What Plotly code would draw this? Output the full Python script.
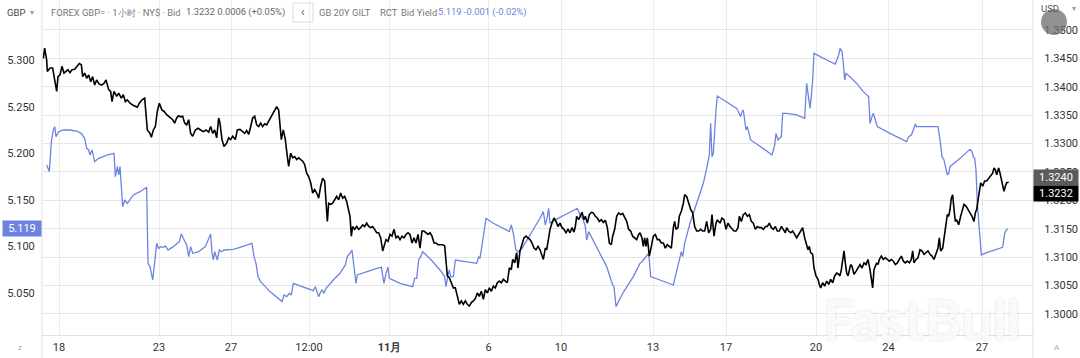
import plotly.graph_objects as go

# ---------------- data ----------------
# x axis: bar index (trading-time index), tick labels placed at bar positions
tick_bars = [12.75, 87.75, 141.75, 200.25, 260.6, 334.9, 389.25, 458.25, 513, 580.5, 634.9, 705]
tick_text = ["18", "23", "27", "12:00", "<b>11月</b>", "6", "10", "13", "17", "20", "24", "27"]

# GBP/USD (FOREX GBP=, 1h, Bid) -> right axis
gbp_bar = [
    1.0, 2.0, 3.5, 4.0, 6.0, 8.0, 9.5, 11.0, 12.0, 13.5, 15.0, 16.5, 18.0, 19.5, 21.0, 22.5, 24.5, 26.0, 28.0, 29.5,
    30.5, 32.0, 33.5, 35.0, 36.5, 38.0, 39.5, 41.0, 42.5, 44.5, 46.5, 48.0, 50.0, 51.5, 52.5, 54.0, 56.0, 57.5, 59.5, 61.0,
    62.5, 64.0, 66.0, 68.0, 70.0, 71.5, 73.0, 75.0, 77.0, 78.0, 79.0, 81.0, 82.0, 83.5, 85.0, 86.5, 88.0, 90.0, 91.5, 93.5,
    96.0, 98.0, 99.5, 101.0, 102.5, 104.0, 105.5, 107.0, 108.5, 110.0, 111.5, 113.0, 115.0, 117.0, 119.0, 121.0, 123.0, 125.0, 126.5, 128.0,
    129.5, 131.0, 132.5, 133.5, 135.0, 136.5, 138.5, 140.0, 141.5, 143.0, 145.0, 146.5, 148.5,
    150.5, 152.0, 153.5, 155.0, 156.5, 158.0, 159.5, 161.0, 162.5, 164.0, 165.5, 167.0, 168.5, 170.0, 171.5, 173.0, 174.5, 176.0, 177.5, 178.5,
    179.5, 181.0, 182.5, 184.0, 185.0, 186.5, 188.0, 189.5, 191.0, 192.5, 194.0, 195.5, 197.0, 198.5, 200.0, 201.5, 203.0, 204.5, 206.0, 207.5,
    209.0, 210.5, 212.0, 213.0, 214.0, 215.0, 216.5, 218.0, 219.5, 221.0, 222.5, 224.0, 225.5, 227.0, 228.5, 230.0, 231.0, 232.0, 233.0, 234.5,
    236.0, 237.5, 239.0, 240.5, 242.0, 243.5, 245.0, 246.5, 248.0, 249.5, 251.0, 252.5, 254.0, 255.5, 256.5, 258.0, 259.5, 261.0, 262.5, 264.0,
    265.5, 267.0, 268.5, 270.0, 271.5, 273.0, 274.5, 276.0, 277.5, 279.0, 280.5, 282.0, 283.5, 285.0, 286.5, 288.0, 289.5, 291.0, 292.5, 294.0,
    295.5, 297.0, 298.5,
    300.5, 302.0, 303.0, 304.0, 305.5, 307.0, 308.5, 310.0, 311.5, 313.0, 314.5, 316.0, 317.5, 319.0, 320.5, 322.0, 323.5, 325.0, 326.5, 328.0,
    329.5, 331.0, 332.5, 334.0, 335.5, 337.0, 338.5, 340.0, 341.5, 343.0, 344.5, 346.0, 347.5, 349.0, 350.5, 352.0, 353.0, 354.5, 356.0, 357.0,
    358.5, 360.0, 361.5, 363.0, 364.5, 366.0, 367.5, 369.0, 370.5, 372.0, 373.5, 375.0, 376.0, 377.5, 378.5, 380.0, 381.0, 382.5, 384.0, 385.5,
    387.0, 388.5, 390.0, 391.5, 393.0, 394.5, 396.0, 397.5, 399.0, 400.0, 401.0, 402.5, 403.5, 405.0, 406.5, 407.5, 409.0, 410.5, 412.0, 413.5,
    415.0, 416.5, 418.0, 419.5, 421.0, 422.5, 424.0, 425.5, 427.0, 428.0, 429.5, 431.0, 432.5, 434.0, 435.5, 437.0, 438.5, 440.0, 441.5, 443.0,
    444.5, 446.0, 447.5, 448.5,
    450.0, 451.0, 452.0, 453.0, 454.0, 455.5, 457.0, 458.5, 460.0, 461.5, 463.0, 464.5, 466.0, 467.5, 469.0, 470.5, 472.0, 473.5, 474.5, 475.5,
    477.0, 478.0, 479.5, 481.0, 482.0, 483.5, 485.0, 486.5, 488.0, 489.5, 491.0, 492.5, 494.0, 495.5, 497.0, 498.5, 500.0, 501.5, 502.5, 504.0,
    505.5, 506.5, 507.5, 508.5, 510.0, 511.5, 513.0, 514.5, 516.0, 517.5, 519.0, 520.5, 522.0, 523.0, 524.5, 526.0, 527.5, 529.0, 530.5, 532.0,
    533.5, 535.0, 536.5, 538.0, 539.5, 541.0, 542.5, 544.0, 545.5, 547.0, 548.5, 550.0, 551.5, 553.0, 554.5, 556.0, 557.5, 558.5, 560.0, 561.5,
    563.0, 564.5, 566.0, 567.5, 569.0, 570.5, 572.0, 573.5, 574.5, 575.5, 576.5, 578.0, 579.0, 580.5, 582.0, 583.0, 584.0, 585.5, 587.0, 588.5,
    590.0, 591.5, 593.0, 594.5, 596.0, 597.5, 598.5,
    599.5, 600.5, 601.5, 602.5, 603.5, 604.5, 605.5, 606.5, 607.5, 609.0, 610.5, 612.0, 613.5, 615.0, 616.5, 618.0, 619.5, 621.0, 622.0, 623.0,
    624.0, 625.0, 626.0, 627.0, 628.0, 629.5, 631.0, 632.5, 634.0, 635.5, 637.0, 638.5, 640.0, 641.5, 643.0, 644.5, 646.0, 647.5, 649.0, 650.5,
    652.0, 653.0, 654.0, 655.5, 657.0, 658.5, 660.0, 661.5, 663.0, 664.5, 666.0, 667.5, 669.0, 670.5, 672.0, 673.0, 674.0, 675.5, 677.0, 678.0,
    679.0, 680.0, 681.0, 682.0, 683.0, 684.0, 685.0, 686.0, 687.5, 689.0, 690.0, 691.5, 693.0, 694.5, 696.0, 697.5, 699.0, 700.0, 701.0, 702.0,
    703.0, 704.0, 705.5, 707.0, 708.5, 710.0, 711.5, 713.0, 714.0, 715.0, 716.0, 717.5, 718.5, 719.5, 720.5, 721.5, 722.5, 723.5, 725.0,
]
gbp_bid = [
    1.3450, 1.3468, 1.3447, 1.3427, 1.3433, 1.3433, 1.3412, 1.3392, 1.3418, 1.3421, 1.3436, 1.3424, 1.3427, 1.3430, 1.3425, 1.3430, 1.3431, 1.3436, 1.3441, 1.3439,
    1.3418, 1.3424, 1.3415, 1.3421, 1.3409, 1.3418, 1.3403, 1.3412, 1.3406, 1.3403, 1.3406, 1.3412, 1.3395, 1.3392, 1.3374, 1.3392, 1.3383, 1.3389, 1.3380, 1.3386,
    1.3374, 1.3377, 1.3371, 1.3368, 1.3366, 1.3364, 1.3371, 1.3377, 1.3380, 1.3354, 1.3324, 1.3318, 1.3311, 1.3324, 1.3330, 1.3357, 1.3371, 1.3359, 1.3357, 1.3351,
    1.3345, 1.3342, 1.3336, 1.3345, 1.3349, 1.3347, 1.3348, 1.3336, 1.3333, 1.3342, 1.3318, 1.3313, 1.3324, 1.3327, 1.3324, 1.3321, 1.3324, 1.3320, 1.3330, 1.3318,
    1.3324, 1.3310, 1.3345, 1.3336, 1.3307, 1.3295, 1.3301, 1.3310, 1.3307, 1.3313, 1.3307, 1.3324, 1.3325,
    1.3321, 1.3318, 1.3323, 1.3316, 1.3330, 1.3345, 1.3348, 1.3333, 1.3330, 1.3336, 1.3330, 1.3335, 1.3333, 1.3339, 1.3345, 1.3351, 1.3357, 1.3365, 1.3359, 1.3336,
    1.3307, 1.3324, 1.3307, 1.3277, 1.3260, 1.3283, 1.3275, 1.3277, 1.3272, 1.3275, 1.3272, 1.3269, 1.3263, 1.3248, 1.3242, 1.3231, 1.3213, 1.3219, 1.3213, 1.3204,
    1.3225, 1.3239, 1.3234, 1.3195, 1.3163, 1.3195, 1.3193, 1.3195, 1.3201, 1.3207, 1.3201, 1.3213, 1.3204, 1.3207, 1.3198, 1.3181, 1.3172, 1.3137, 1.3154, 1.3149,
    1.3154, 1.3149, 1.3152, 1.3157, 1.3154, 1.3160, 1.3154, 1.3152, 1.3154, 1.3149, 1.3143, 1.3143, 1.3134, 1.3111, 1.3119, 1.3131, 1.3128, 1.3140, 1.3137, 1.3149,
    1.3134, 1.3137, 1.3131, 1.3137, 1.3134, 1.3140, 1.3143, 1.3140, 1.3125, 1.3134, 1.3125, 1.3140, 1.3116, 1.3146, 1.3146, 1.3143, 1.3140, 1.3143, 1.3137, 1.3125,
    1.3125, 1.3122, 1.3122,
    1.3122, 1.3120, 1.3090, 1.3067, 1.3064, 1.3055, 1.3046, 1.3046, 1.3031, 1.3017, 1.3023, 1.3017, 1.3023, 1.3017, 1.3014, 1.3020, 1.3023, 1.3027, 1.3037, 1.3031,
    1.3040, 1.3026, 1.3043, 1.3037, 1.3046, 1.3040, 1.3049, 1.3046, 1.3055, 1.3058, 1.3055, 1.3061, 1.3058, 1.3055, 1.3081, 1.3078, 1.3096, 1.3090, 1.3108, 1.3081,
    1.3111, 1.3125, 1.3134, 1.3137, 1.3134, 1.3131, 1.3125, 1.3116, 1.3113, 1.3119, 1.3113, 1.3102, 1.3096, 1.3116, 1.3113, 1.3134, 1.3149, 1.3160, 1.3169, 1.3163,
    1.3154, 1.3160, 1.3152, 1.3149, 1.3143, 1.3149, 1.3143, 1.3152, 1.3144, 1.3154, 1.3172, 1.3166, 1.3172, 1.3179, 1.3166, 1.3172, 1.3160, 1.3175, 1.3179, 1.3178,
    1.3172, 1.3169, 1.3163, 1.3166, 1.3161, 1.3165, 1.3152, 1.3125, 1.3122, 1.3137, 1.3149, 1.3172, 1.3178, 1.3175, 1.3177, 1.3169, 1.3163, 1.3149, 1.3146, 1.3137,
    1.3134, 1.3131, 1.3140, 1.3143,
    1.3134, 1.3119, 1.3134, 1.3119, 1.3134, 1.3102, 1.3119, 1.3137, 1.3140, 1.3131, 1.3131, 1.3125, 1.3125, 1.3116, 1.3122, 1.3119, 1.3116, 1.3152, 1.3163, 1.3149,
    1.3152, 1.3172, 1.3181, 1.3195, 1.3210, 1.3207, 1.3193, 1.3184, 1.3178, 1.3154, 1.3146, 1.3146, 1.3149, 1.3146, 1.3146, 1.3163, 1.3143, 1.3149, 1.3175, 1.3137,
    1.3160, 1.3166, 1.3163, 1.3160, 1.3169, 1.3166, 1.3149, 1.3160, 1.3154, 1.3149, 1.3146, 1.3146, 1.3152, 1.3172, 1.3163, 1.3175, 1.3178, 1.3172, 1.3175, 1.3163,
    1.3160, 1.3149, 1.3154, 1.3152, 1.3152, 1.3149, 1.3154, 1.3154, 1.3160, 1.3152, 1.3149, 1.3154, 1.3146, 1.3146, 1.3154, 1.3149, 1.3143, 1.3152, 1.3146, 1.3143,
    1.3146, 1.3140, 1.3134, 1.3140, 1.3146, 1.3152, 1.3134, 1.3122, 1.3113, 1.3119, 1.3108, 1.3105, 1.3081, 1.3067, 1.3061, 1.3052, 1.3046, 1.3055, 1.3049, 1.3058,
    1.3052, 1.3061, 1.3055, 1.3067, 1.3072, 1.3070, 1.3067,
    1.3078, 1.3096, 1.3111, 1.3090, 1.3072, 1.3067, 1.3078, 1.3087, 1.3084, 1.3070, 1.3075, 1.3081, 1.3087, 1.3081, 1.3090, 1.3087, 1.3096, 1.3078, 1.3061, 1.3046,
    1.3078, 1.3084, 1.3090, 1.3087, 1.3096, 1.3102, 1.3096, 1.3099, 1.3096, 1.3093, 1.3096, 1.3093, 1.3087, 1.3090, 1.3096, 1.3102, 1.3093, 1.3090, 1.3093, 1.3090,
    1.3096, 1.3111, 1.3090, 1.3096, 1.3099, 1.3113, 1.3111, 1.3105, 1.3108, 1.3111, 1.3105, 1.3102, 1.3096, 1.3108, 1.3116, 1.3134, 1.3111, 1.3116, 1.3140, 1.3160,
    1.3175, 1.3172, 1.3184, 1.3204, 1.3210, 1.3184, 1.3163, 1.3166, 1.3157, 1.3172, 1.3181, 1.3193, 1.3190, 1.3184, 1.3178, 1.3172, 1.3163, 1.3178, 1.3184, 1.3201,
    1.3219, 1.3231, 1.3225, 1.3234, 1.3234, 1.3239, 1.3242, 1.3248, 1.3257, 1.3254, 1.3245, 1.3257, 1.3248, 1.3239, 1.3225, 1.3216, 1.3225, 1.3231, 1.3232,
]

# GB 20Y GILT bid yield -> left axis
gilt_bar = [
    3.5, 5.5, 7.0, 8.5, 9.5, 10.5, 12.5, 16.0, 21.0, 26.0, 29.5, 32.0, 33.5, 35.0, 36.0, 37.5, 39.5, 42.5, 46.0, 48.5,
    54.0, 55.0, 56.5, 57.5, 58.5, 60.5, 62.0, 64.0, 68.5, 73.5, 78.5, 79.5, 81.0, 83.0, 85.0, 86.0, 87.5, 89.0, 91.0, 92.5,
    94.5, 98.5, 103.0, 104.5, 106.0, 108.5, 110.0, 111.5, 113.0, 117.5, 122.5, 126.5, 127.5, 128.5, 129.5, 131.5, 133.0, 134.5, 136.5, 139.0,
    143.5, 148.5, 157.5, 159.0, 160.5, 162.0, 164.0, 171.0, 180.0, 181.5, 183.5, 185.5, 187.0, 188.5, 198.5, 203.5, 205.0, 206.5, 207.5, 208.5,
    210.0, 211.5, 213.0, 218.5, 223.5, 227.5, 229.0, 231.0, 232.5, 234.0, 235.5, 236.5, 243.5, 251.0, 254.5, 255.5, 256.5, 258.0, 259.5, 260.5,
    268.5, 278.0, 279.5, 281.0, 282.5, 284.0, 285.5, 292.0, 298.5, 302.0, 303.0, 304.5, 305.5, 306.5, 308.5, 310.0, 326.0, 327.5, 328.5, 331.0,
    333.0, 338.5, 346.0, 350.5, 352.0, 353.5, 355.5, 357.5, 360.0, 363.5, 368.5, 373.5, 376.0, 377.5, 378.5, 380.0, 381.0, 382.5, 385.0, 393.5,
    401.5, 403.5, 406.0, 407.5, 408.5, 410.0, 417.5, 423.5, 428.0, 429.0, 430.5, 435.5, 443.5, 448.5, 450.0, 452.0, 453.5, 455.0, 456.5, 463.5,
    468.5, 473.5, 475.0, 477.0, 478.5, 479.5, 480.5, 482.0, 486.0, 491.0, 496.0, 498.5, 500.5, 501.5, 502.5, 503.5, 504.5, 505.5, 506.5, 513.5,
    521.0, 524.0, 525.0, 526.0, 527.0, 528.0, 529.0, 530.0, 531.5, 539.0, 547.5, 549.5, 550.5, 552.0, 554.5, 555.5, 558.5, 566.0, 572.0, 573.5,
    575.0, 576.0, 577.0, 578.0, 579.0, 583.5, 588.5, 595.0, 597.5, 598.5, 600.0, 601.0, 602.0, 603.0, 606.0, 611.0, 616.0, 620.0, 621.0, 622.5,
    623.5, 625.0, 626.5, 636.0, 643.5, 648.5, 650.0, 652.0, 654.0, 655.0, 656.0, 663.5, 672.0, 673.5, 675.0, 676.5, 678.0, 679.0, 680.0, 681.0,
    688.5, 696.0, 697.5, 698.5, 699.5, 700.5, 701.5, 703.0, 704.5, 708.5, 713.5, 720.5, 722.0, 723.5, 724.5,
]
gilt_yield = [
    5.1875, 5.1804, 5.2125, 5.2250, 5.2286, 5.2179, 5.2232, 5.2250, 5.2250, 5.2239, 5.2214, 5.2161, 5.2054, 5.2036, 5.1982, 5.2036, 5.1911, 5.1946, 5.1964, 5.1982,
    5.2000, 5.1750, 5.1857, 5.1768, 5.1857, 5.1429, 5.1500, 5.1464, 5.1554, 5.1589, 5.1636, 5.0821, 5.0786, 5.0643, 5.0893, 5.1036, 5.0982, 5.1000, 5.0993, 5.1007,
    5.0964, 5.1000, 5.1054, 5.1136, 5.1089, 5.1018, 5.0893, 5.1000, 5.0929, 5.0946, 5.1000, 5.1136, 5.0929, 5.0857, 5.0946, 5.0857, 5.0964, 5.0946, 5.0964, 5.0964,
    5.0971, 5.0993, 5.1036, 5.0893, 5.0821, 5.0679, 5.0625, 5.0518, 5.0411, 5.0482, 5.0464, 5.0500, 5.0482, 5.0607, 5.0554, 5.0529, 5.0571, 5.0500, 5.0464, 5.0500,
    5.0536, 5.0500, 5.0554, 5.0643, 5.0714, 5.0804, 5.0893, 5.0929, 5.0964, 5.0786, 5.0607, 5.0696, 5.0732, 5.0768, 5.0779, 5.0696, 5.0607, 5.0714, 5.0779, 5.0661,
    5.0607, 5.0571, 5.0661, 5.0661, 5.0857, 5.0893, 5.0946, 5.0857, 5.0750, 5.0679, 5.0571, 5.0696, 5.0750, 5.0679, 5.0679, 5.0857, 5.0821, 5.0893, 5.0875, 5.1107,
    5.1304, 5.1250, 5.1196, 5.1161, 5.1232, 5.1143, 5.0964, 5.0946, 5.0982, 5.1064, 5.1179, 5.1304, 5.1375, 5.1232, 5.1286, 5.1411, 5.1250, 5.1268, 5.1286, 5.1350,
    5.1411, 5.1339, 5.1286, 5.1214, 5.1071, 5.1161, 5.0946, 5.0786, 5.0589, 5.0571, 5.0357, 5.0500, 5.0679, 5.0821, 5.0839, 5.0875, 5.0893, 5.0929, 5.0679, 5.0643,
    5.0618, 5.0589, 5.0679, 5.0786, 5.0893, 5.0946, 5.0893, 5.1036, 5.1250, 5.1464, 5.1679, 5.1839, 5.1982, 5.2321, 5.1964, 5.2000, 5.2321, 5.2464, 5.2614, 5.2554,
    5.2482, 5.2393, 5.2446, 5.2464, 5.2339, 5.2250, 5.2286, 5.2214, 5.2143, 5.2071, 5.1982, 5.2089, 5.2214, 5.2143, 5.2179, 5.2429, 5.2429, 5.2411, 5.2375, 5.2750,
    5.2607, 5.2482, 5.2607, 5.2786, 5.3071, 5.3036, 5.3000, 5.2957, 5.3054, 5.3125, 5.3089, 5.2964, 5.2786, 5.2857, 5.2821, 5.2750, 5.2661, 5.2607, 5.2321, 5.2393,
    5.2429, 5.2357, 5.2286, 5.2214, 5.2161, 5.2125, 5.2179, 5.2196, 5.2268, 5.2314, 5.2286, 5.2286, 5.2286, 5.2143, 5.1964, 5.1929, 5.1804, 5.1768, 5.1786, 5.1857,
    5.1946, 5.2043, 5.2018, 5.1964, 5.1946, 5.1821, 5.1464, 5.1179, 5.0911, 5.0936, 5.0957, 5.0993, 5.1143, 5.1186, 5.1190,
]

left_ticks = [5.05, 5.10, 5.15, 5.20, 5.25, 5.30]
right_ticks = [1.3000, 1.3050, 1.3100, 1.3150, 1.3200, 1.3250, 1.3300, 1.3350, 1.3400, 1.3450, 1.3500]
gbp_last, gbp_high = 1.3232, 1.3240
gilt_last = 5.119

# ---------------- styling ----------------
W, H = 1080, 358
ML, MR, MT, MB = 42, 47, 0, 23
PW, PH = W - ML - MR, H - MT - MB
BLUE = "#6d83e0"
FONT = "Roboto, Liberation Sans, Arial, sans-serif"


def px(x):
    return (x - ML) / PW


def py(y):
    return 1 - (y - MT) / PH


fig = go.Figure()
fig.add_trace(go.Scatter(x=gilt_bar, y=gilt_yield, mode="lines", yaxis="y",
                         line=dict(color=BLUE, width=1.3), showlegend=False, hoverinfo="skip"))
fig.add_trace(go.Scatter(x=gbp_bar, y=gbp_bid, mode="lines", yaxis="y2",
                         line=dict(color="#000000", width=1.6), showlegend=False, hoverinfo="skip"))

ann = []


def text(x, y, s, color="#666666", size=9.4, anchor="left", **kw):
    ann.append(dict(xref="paper", yref="paper", x=px(x), y=py(y), text=s, showarrow=False,
                    xanchor=anchor, yanchor="middle", font=dict(family=FONT, size=size, color=color), **kw))


# header
text(5, 12, "GBP", color="#444444", size=9.5)
text(32, 12, "▾", color="#999999", size=8, anchor="center")
text(49, 12, "FOREX GBP= · 1小时 · NY$ · Bid", color="#777777")
text(184, 12, "1.3232 0.0006 (+0.05%)", color="#666666")
text(303, 12, "‹", color="#555555", size=12, anchor="center")
text(317, 12, "GB 20Y GILT", color="#777777")
text(378, 12, "RCT", color="#777777")
text(399, 12, "Bid Yield", color="#777777")
text(436, 12, "5.119 -0.001 (-0.02%)", color=BLUE)
text(1039, 8, "USD", color="#555555", size=9.5)
text(1074, 8, "▾", color="#999999", size=8, anchor="center")
# bottom corner icons
text(20, 347, "z", color="#aaaaaa", size=8, anchor="center")
text(1057, 347, "A", color="#aaaaaa", size=8, anchor="center")
# watermark
ann.append(dict(xref="paper", yref="paper", x=px(922), y=py(318), text="<b>FastBull</b>", showarrow=False,
                xanchor="center", yanchor="middle",
                font=dict(family="Lato, sans-serif", size=56, color="rgba(255,255,255,0.85)",
                          shadow="0px 0px 3px rgba(0,0,0,0.18)")))

# last-value boxes
ann.append(dict(xref="paper", yref="y", x=0, y=gilt_last, text=f"{gilt_last:.3f}", showarrow=False,
                xanchor="right", yanchor="middle", bgcolor=BLUE, width=36, height=13, borderpad=1,
                font=dict(family=FONT, size=11, color="white")))
ann.append(dict(xref="paper", yref="y2", x=1, y=gbp_high, text=f"{gbp_high:.4f}", showarrow=False,
                xanchor="left", yanchor="middle", bgcolor="#5b5b5b", width=42, height=13, borderpad=1,
                font=dict(family=FONT, size=11, color="white")))
ann.append(dict(xref="paper", yref="y2", x=1, y=gbp_high, yshift=-16, text=f"{gbp_last:.4f}", showarrow=False,
                xanchor="left", yanchor="middle", bgcolor="#000000", width=42, height=13, borderpad=1,
                font=dict(family=FONT, size=11, color="white")))

shapes = [
    dict(type="rect", xref="paper", yref="paper", x0=px(293), x1=px(313), y0=py(22), y1=py(3),
         line=dict(color="#dddddd", width=1), fillcolor="rgba(255,255,255,0)", layer="above"),
    dict(type="line", xref="paper", yref="paper", x0=0, x1=0, y0=py(H), y1=1,
         line=dict(color="#e0e0e0", width=1)),
    dict(type="line", xref="paper", yref="paper", x0=1, x1=1, y0=py(H), y1=1,
         line=dict(color="#e0e0e0", width=1)),
    dict(type="circle", xref="paper", yref="paper", x0=px(1041), x1=px(1067), y0=py(35), y1=py(9),
         line=dict(width=0), fillcolor="rgba(110,110,110,0.75)", layer="above"),
]

fig.update_layout(
    width=W, height=H, margin=dict(l=ML, r=MR, t=MT, b=MB, autoexpand=False),
    paper_bgcolor="white", plot_bgcolor="white",
    font=dict(family=FONT, size=11, color="#333333"),
    xaxis=dict(range=[0, (PW) * 0.75], tickvals=tick_bars, ticktext=tick_text,
               showgrid=True, gridcolor="#ececec", gridwidth=1, zeroline=False,
               showline=True, linecolor="#e0e0e0", ticks="outside", ticklen=2, tickcolor="rgba(0,0,0,0)",
               tickfont=dict(size=11, color="#333333")),
    yaxis=dict(range=[5.00532, 5.36429], tickvals=left_ticks, ticktext=[f"{v:.3f}" for v in left_ticks],
               showgrid=False, zeroline=False, showline=False, side="left",
               ticks="outside", ticklen=4, tickcolor="rgba(0,0,0,0)",
               tickfont=dict(size=11, color="#333333")),
    yaxis2=dict(range=[1.29630, 1.35528], tickvals=right_ticks, ticktext=[f"{v:.4f}" for v in right_ticks],
                overlaying="y", side="right", showgrid=True, gridcolor="#e6e6e6", zeroline=False,
                showline=False, ticks="outside", ticklen=8, tickcolor="rgba(0,0,0,0)",
                tickfont=dict(size=11, color="#333333")),
    annotations=ann, shapes=shapes, showlegend=False,
)

fig.write_html("out.html", config={"displayModeBar": False},
               post_script="document.body.style.margin='0';document.body.style.overflow='hidden';")
